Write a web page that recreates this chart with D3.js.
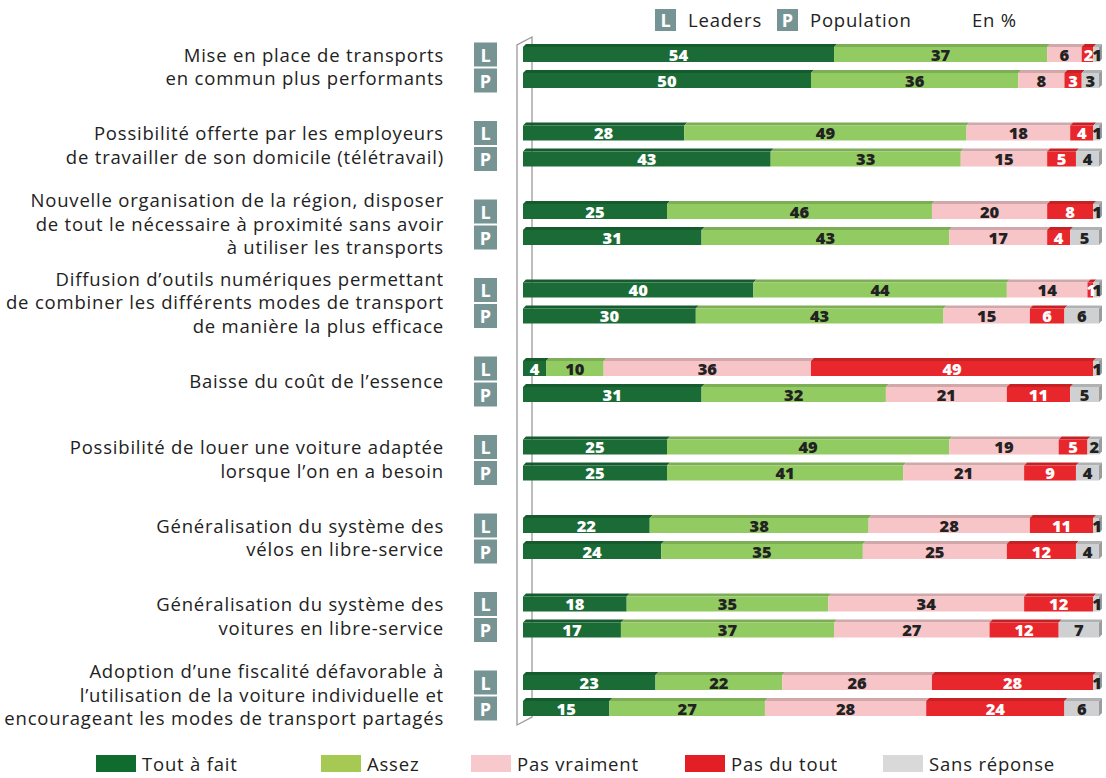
<!DOCTYPE html>
<html>
<head>
<meta charset="utf-8">
<script src="https://cdn.jsdelivr.net/npm/d3@7"></script>
<style>
  body { margin: 0; background: #fff; }
  svg { display: block; font-family: "Open Sans", "Lato", sans-serif; }
</style>
</head>
<body>
<div id="chart"></div>
<script>
// categories (one line per text row)
const categories = [
  ["Mise en place de transports", "en commun plus performants"],
  ["Possibilité offerte par les employeurs", "de travailler de son domicile (télétravail)"],
  ["Nouvelle organisation de la région, disposer", "de tout le nécessaire à proximité sans avoir", "à utiliser les transports"],
  ["Diffusion d’outils numériques permettant", "de combiner les différents modes de transport", "de manière la plus efficace"],
  ["Baisse du coût de l’essence"],
  ["Possibilité de louer une voiture adaptée", "lorsque l’on en a besoin"],
  ["Généralisation du système des", "vélos en libre-service"],
  ["Généralisation du système des", "voitures en libre-service"],
  ["Adoption d’une fiscalité défavorable à", "l’utilisation de la voiture individuelle et", "encourageant les modes de transport partagés"]
];

const answers = ["Tout à fait", "Assez", "Pas vraiment", "Pas du tout", "Sans réponse"];

// values per category, order = answers
const leaders = [
  [54, 37, 6, 2, 1],
  [28, 49, 18, 4, 1],
  [25, 46, 20, 8, 1],
  [40, 44, 14, 1, 1],
  [4, 10, 36, 49, 1],
  [25, 49, 19, 5, 2],
  [22, 38, 28, 11, 1],
  [18, 35, 34, 12, 1],
  [23, 22, 26, 28, 1]
];
const population = [
  [50, 36, 8, 3, 3],
  [43, 33, 15, 5, 4],
  [31, 43, 17, 4, 5],
  [30, 43, 15, 6, 6],
  [31, 32, 21, 11, 5],
  [25, 41, 21, 9, 4],
  [24, 35, 25, 12, 4],
  [17, 37, 27, 12, 7],
  [15, 27, 28, 24, 6]
];

const barColors = ["#1a6b36", "#93cb63", "#f7c4c7", "#e8272c", "#cfd0d1"];
const legendColors = ["#0f6b2e", "#a5c953", "#f7c9cc", "#e31e24", "#d9d9d9"];
const textColors = ["#fff", "#222", "#222", "#fff", "#222"];
const badgeColor = "#779494";

const width = 1106, height = 778;
const svg = d3.select("#chart").append("svg")
  .attr("width", width).attr("height", height);

const x = d3.scaleLinear().domain([0, 100]).range([523, 1099]);
const y = d3.scalePoint().domain(d3.range(categories.length)).range([54.5, 54.5 + 8 * 78.5]);
const rowOffset = 26;   // P bar below L bar
const barH = 15;
const depth = 3;
const spacing = 0.8;

// wall on the left
const wTop = 45, wBot = 725, wx = 517;
svg.append("path")
  .attr("d", `M${wx},${wBot} L${wx},${wTop} L${wx + 15},${wTop - 8} L${wx + 15},${wBot - 8} Z`)
  .attr("fill", "#fff")
  .attr("stroke", "#9a9a9a")
  .attr("stroke-width", 1.3);

// top legend
const topLeg = svg.append("g");
[["L", "Leaders", 655], ["P", "Population", 777]].forEach(([k, name, lx]) => {
  topLeg.append("rect").attr("x", lx).attr("y", 9).attr("width", 21).attr("height", 22).attr("fill", badgeColor);
  topLeg.append("text").attr("x", lx + 10.5).attr("y", 27).attr("text-anchor", "middle")
    .attr("fill", "#fff").attr("font-weight", "bold").attr("font-size", 18).text(k);
  topLeg.append("text").attr("x", lx + 33).attr("y", 27).attr("fill", "#222").attr("font-size", 18.5)
    .attr("letter-spacing", spacing).text(name);
});
topLeg.append("text").attr("x", 972).attr("y", 27).attr("fill", "#222").attr("font-size", 18.5)
  .attr("letter-spacing", spacing).text("En %");

function drawBar(g, vals, cy) {
  let acc = 0;
  const segs = vals.map((v, i) => {
    const s = { v, i, x0: x(acc), x1: x(acc + v) };
    acc += v;
    return s;
  });
  const yt = cy - barH / 2, yb = cy + barH / 2;
  segs.forEach((s, k) => {
    const c = barColors[s.i];
    g.append("path")
      .attr("d", `M${s.x0},${yt} L${s.x0 + depth},${yt - depth} L${s.x1 + depth},${yt - depth} L${s.x1},${yt} Z`)
      .attr("fill", d3.color(c).darker(0.45));
    g.append("rect").attr("x", s.x0).attr("y", yt).attr("width", s.x1 - s.x0).attr("height", barH).attr("fill", c);
    if (k === segs.length - 1) {
      g.append("path")
        .attr("d", `M${s.x1},${yt} L${s.x1 + depth},${yt - depth} L${s.x1 + depth},${yb - depth} L${s.x1},${yb} Z`)
        .attr("fill", d3.color(c).darker(0.8));
    }
  });
  segs.forEach(s => {
    g.append("text")
      .attr("x", (s.x0 + s.x1) / 2 + (s.v < 3 ? 1 : 0))
      .attr("y", cy + 6)
      .attr("text-anchor", "middle")
      .attr("font-weight", 800)
      .attr("font-size", 16.5)
      .attr("fill", textColors[s.i])
      .text(s.v);
  });
}

categories.forEach((lines, i) => {
  const cL = y(i), cP = y(i) + rowOffset;
  const mid = (cL + cP) / 2;
  const g = svg.append("g");

  // label
  const lh = 23.5;
  const t = g.append("text").attr("text-anchor", "end").attr("fill", "#222")
    .attr("font-size", 18.5).attr("letter-spacing", spacing);
  lines.forEach((ln, j) => {
    t.append("tspan").attr("x", 444)
      .attr("y", mid + 6 + (j - (lines.length - 1) / 2) * lh)
      .text(ln);
  });

  // badges
  [["L", cL], ["P", cP]].forEach(([k, c]) => {
    g.append("rect").attr("x", 474).attr("y", c - 12).attr("width", 23).attr("height", 24).attr("fill", badgeColor);
    g.append("text").attr("x", 485.5).attr("y", c + 7).attr("text-anchor", "middle")
      .attr("fill", "#fff").attr("font-weight", "bold").attr("font-size", 18).text(k);
  });

  drawBar(g, leaders[i], cL);
  drawBar(g, population[i], cP);
});

// bottom legend
const legX = [96, 321, 471, 685, 883];
const bl = svg.append("g");
answers.forEach((a, i) => {
  bl.append("rect").attr("x", legX[i]).attr("y", 755).attr("width", 40).attr("height", 17).attr("fill", legendColors[i]);
  bl.append("text").attr("x", legX[i] + 46).attr("y", 771).attr("fill", "#222").attr("font-size", 18.5)
    .attr("letter-spacing", spacing).text(a);
});
</script>
</body>
</html>
